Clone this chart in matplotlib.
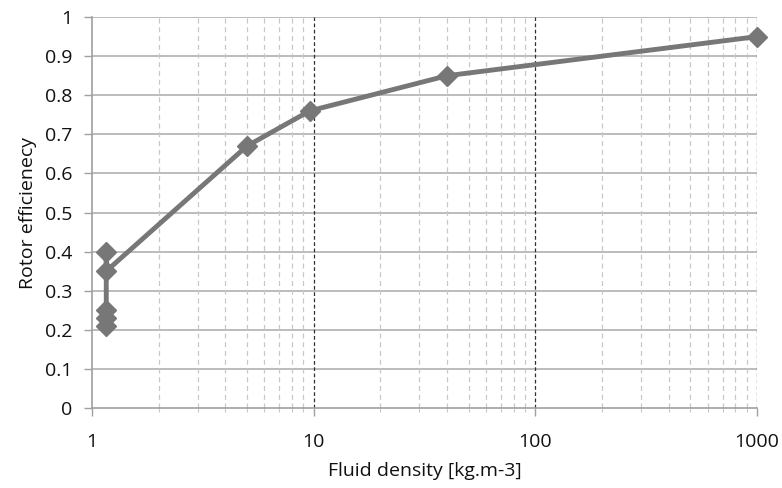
import matplotlib
matplotlib.use('Agg')
import matplotlib.pyplot as plt
from matplotlib.ticker import FixedLocator, NullFormatter

# data
density = [1.16, 1.16, 1.16, 1.16, 1.16, 5, 9.6, 40, 1000]
efficiency = [0.21, 0.23, 0.25, 0.40, 0.35, 0.67, 0.76, 0.85, 0.95]
xticks = [1, 10, 100, 1000]
xticklabels = ['1', '10', '100', '1000']
yticks = [0, 0.1, 0.2, 0.3, 0.4, 0.5, 0.6, 0.7, 0.8, 0.9, 1]
yticklabels = ['0', '0.1', '0.2', '0.3', '0.4', '0.5', '0.6', '0.7', '0.8', '0.9', '1']

plt.rcParams['font.family'] = ['Open Sans', 'DejaVu Sans']
plt.rcParams['font.size'] = 14

fig = plt.figure(figsize=(7.82, 4.88), dpi=100)
ax = fig.add_axes([0.1176, 0.164, 0.968 - 0.1176, 0.965 - 0.164])

ax.set_xscale('log')
ax.set_xlim(1, 1000)
ax.set_ylim(0, 1)

# grid
for y in yticks[1:]:
    ax.axhline(y, color='#b0b0b0', lw=1.2, zorder=1)
minor = [m * 10**e for e in range(0, 3) for m in range(2, 10)]
for x in minor:
    ax.axvline(x, color='#c8c8c8', lw=0.9, ls=(0, (4, 3)), zorder=1)
for x in xticks[1:]:
    ax.axvline(x, color='#303030', lw=0.9, ls=(0, (3, 2)), zorder=1)

ax.plot(density, efficiency, color='#777777', lw=3.5, marker='D', ms=10,
        mfc='#777777', mec='#777777', zorder=3, clip_on=False)

ax.xaxis.set_major_locator(FixedLocator(xticks))
ax.set_xticklabels(xticklabels)
ax.xaxis.set_minor_locator(FixedLocator(minor))
ax.xaxis.set_minor_formatter(NullFormatter())
ax.set_yticks(yticks)
ax.set_yticklabels(yticklabels)

for s in ['top', 'right']:
    ax.spines[s].set_visible(False)
for s in ['left', 'bottom']:
    ax.spines[s].set_color('#a0a0a0')
    ax.spines[s].set_linewidth(1.2)

ax.tick_params(axis='both', which='major', length=6, width=1, color='#a0a0a0',
               labelsize=14, labelcolor='#111111')
ax.tick_params(axis='y', which='major', pad=8)
ax.tick_params(axis='x', which='major', pad=12)
ax.tick_params(axis='x', which='minor', length=3, width=0.8, color='#c8c8c8')

ax.set_xlabel('Fluid density [kg.m-3]', fontsize=14, color='#111111', labelpad=8)
ax.set_ylabel('Rotor efficienecy', fontsize=14, color='#111111', labelpad=6)

fig.savefig('out.png', dpi=100)
